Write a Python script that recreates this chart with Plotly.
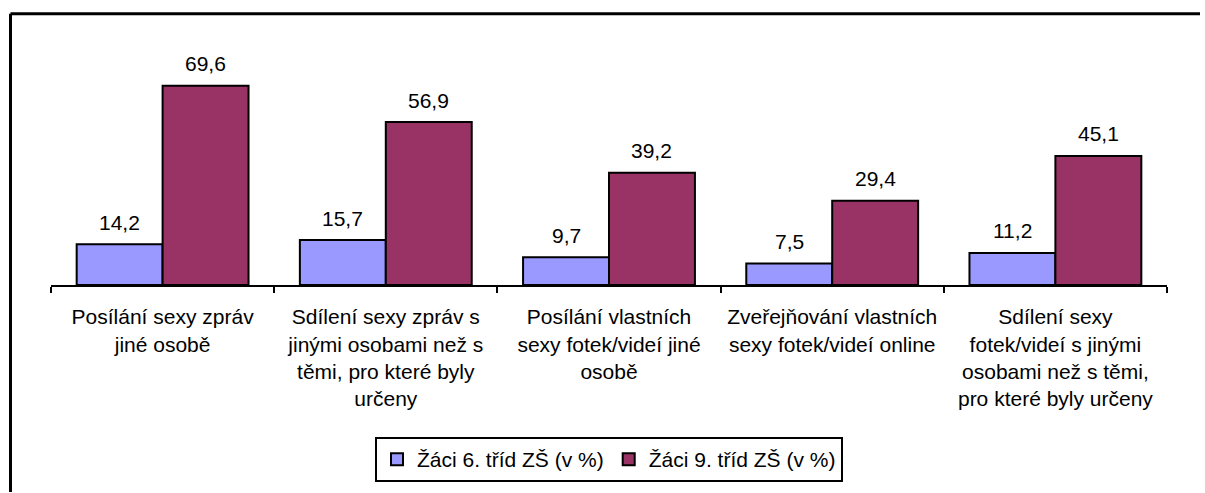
import plotly.graph_objects as go

categories = [
    "Posílání sexy zpráv<br>jiné osobě",
    "Sdílení sexy zpráv s<br>jinými osobami než s<br>těmi, pro které byly<br>určeny",
    "Posílání vlastních<br>sexy fotek/videí jiné<br>osobě",
    "Zveřejňování vlastních<br>sexy fotek/videí online",
    "Sdílení sexy<br>fotek/videí s jinými<br>osobami než s těmi,<br>pro které byly určeny",
]
series_names = ["Žáci 6. tříd ZŠ (v %)", "Žáci 9. tříd ZŠ (v %)"]
grade6 = [14.2, 15.7, 9.7, 7.5, 11.2]
grade9 = [69.6, 56.9, 39.2, 29.4, 45.1]
colors = ["#9999FF", "#993366"]

W, H = 1205, 493
L, R, T, B = 51, 38, 56, 207
pw, ph = W - L - R, H - T - B
BARGAP = 0.23
FONT = "Liberation Sans, Arial"
FS = 21

def fmt(v):
    return f"{v:.1f}".replace(".", ",")

fig = go.Figure()
for name, vals, col in zip(series_names, [grade6, grade9], colors):
    fig.add_trace(go.Bar(
        x=categories, y=vals, name=name,
        marker=dict(color=col, line=dict(color="black", width=2)),
    ))

# value labels above bars (offset from bar centre, derived from bar geometry)
bar_px = pw / len(categories) * (1 - BARGAP) / 2
for si, vals in enumerate([grade6, grade9]):
    shift = (si - 0.5) * bar_px
    for c, v in zip(categories, vals):
        fig.add_annotation(x=c, y=v, text=fmt(v), showarrow=False,
                           xshift=shift, yshift=22, yanchor="middle",
                           font=dict(size=FS, color="black", family=FONT))

def px_x(x):
    return (x - L) / pw

def px_y(y):
    return (H - B - y) / ph

# outer chart frame (left and top edges visible; right/bottom fall outside the image)
frame = dict(color="black", width=3)
fig.add_shape(type="line", xref="paper", yref="paper",
              x0=px_x(10.5), x1=px_x(1200), y0=px_y(13.5), y1=px_y(13.5), line=frame, layer="above")
fig.add_shape(type="line", xref="paper", yref="paper",
              x0=px_x(10.5), x1=px_x(10.5), y0=px_y(13.5), y1=px_y(494), line=frame, layer="above")

fig.update_layout(
    width=W, height=H,
    margin=dict(l=L, r=R, t=T, b=B),
    paper_bgcolor="white", plot_bgcolor="white",
    barmode="group", bargap=BARGAP, bargroupgap=0,
    font=dict(family=FONT, size=FS, color="black"),
    showlegend=True,
    legend=dict(orientation="h", x=0.5, xanchor="center", y=px_y(437), yanchor="top",
                bordercolor="black", borderwidth=2, font=dict(size=FS),
                itemwidth=30, traceorder="normal"),
    xaxis=dict(showline=True, linecolor="black", linewidth=2, ticks="outside",
               tickson="boundaries", ticklen=6, tickwidth=2, tickcolor="black",
               ticklabelstandoff=12,
               showgrid=False, tickfont=dict(size=FS)),
    yaxis=dict(range=[0, 80], visible=False, showgrid=False, zeroline=False),
)

fig.write_html("out.html", config={"displayModeBar": False},
               post_script="document.body.style.margin='0';document.body.style.overflow='hidden';")
